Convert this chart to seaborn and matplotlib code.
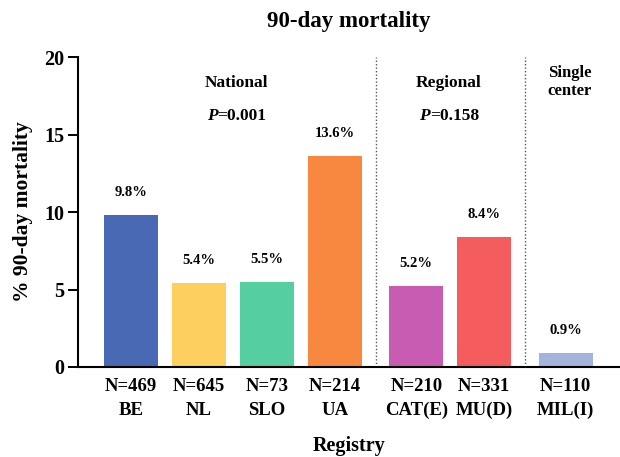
import seaborn as sns
import matplotlib
import matplotlib.pyplot as plt
import pandas as pd

matplotlib.use("Agg")

# data
registries = ["BE", "NL", "SLO", "UA", "CAT(E)", "MU(D)", "MIL(I)"]
sizes = [469, 645, 73, 214, 210, 331, 110]
mortality = [9.8, 5.4, 5.5, 13.6, 5.2, 8.4, 0.9]
groups = ["National", "National", "National", "National", "Regional", "Regional", "Single center"]
p_values = {"National": "0.001", "Regional": "0.158"}
colors = ["#4A69B4", "#FDCF5E", "#55CEA1", "#F8873F", "#C85BB2", "#F45C5D", "#A3B4DC"]

sns.set_style("ticks")
plt.rcParams["font.family"] = ["Liberation Serif", "DejaVu Serif"]
plt.rcParams["font.weight"] = "bold"
for key in ["text.color", "axes.labelcolor", "xtick.color", "ytick.color", "axes.edgecolor"]:
    plt.rcParams[key] = "black"

# a small extra gap between the three registry groups
group_gap = {"National": 0.0, "Regional": 0.2, "Single center": 0.4}
df = pd.DataFrame({"registry": registries, "n": sizes, "mortality": mortality, "group": groups})
df["pos"] = [i + group_gap[g] for i, g in enumerate(df["group"])]

fig = plt.figure(figsize=(6.2, 4.57), dpi=100)
ax = fig.add_axes([0.126, 0.197, 0.874, 0.678])

sns.barplot(data=df, x="pos", y="mortality", hue="registry", palette=colors,
            native_scale=True, width=0.8, dodge=False, legend=False, ax=ax,
            saturation=1, linewidth=0)

# value labels above bars
for _, row in df.iterrows():
    ax.text(row["pos"], row["mortality"] + 1.45, f"{row['mortality']:.1f}%",
            ha="center", va="center", fontsize=10.5, fontweight="bold")

# group separators
nat_end = df[df.group == "National"]["pos"].max()
reg_start = df[df.group == "Regional"]["pos"].min()
reg_end = df[df.group == "Regional"]["pos"].max()
sc_start = df[df.group == "Single center"]["pos"].min()
for xs in [(nat_end + reg_start) / 2, (reg_end + sc_start) / 2]:
    ax.plot([xs, xs], [0, 20], linestyle=(0, (1, 1.5)), color="#555555", linewidth=1)

# group labels with P values
for name, xc in [("National", 1.55), ("Regional", 4.68)]:
    ax.text(xc, 18.3, name, ha="center", va="center", fontsize=12.5, fontweight="bold")
    ax.text(xc - 0.28, 16.2, "P", ha="right", va="center", fontsize=12.5,
            fontweight="bold", fontstyle="italic")
    ax.text(xc - 0.28, 16.2, "=" + p_values[name], ha="left", va="center", fontsize=12.5,
            fontweight="bold")
ax.text(6.46, 18.4, "Single\ncenter", ha="center", va="center", fontsize=12, fontweight="bold",
        linespacing=1.1)

ax.set_xlim(-0.78, 7.2)
ax.set_ylim(0, 20)
ax.set_yticks([0, 5, 10, 15, 20])
ax.set_xticks(df["pos"])
ax.set_xticklabels([f"N={n}\n{r}" for n, r in zip(sizes, registries)], fontsize=13.5,
                   fontweight="bold", linespacing=1.5)
ax.tick_params(axis="x", length=0, pad=8)
ax.tick_params(axis="y", length=7, width=1.4, labelsize=14.5, pad=3)
for lbl in ax.get_yticklabels():
    lbl.set_fontweight("bold")

ax.set_xlabel("Registry", fontsize=14.5, fontweight="bold", labelpad=12)
ax.set_ylabel("% 90-day mortality", fontsize=15.5, fontweight="bold", labelpad=8)
ax.set_title("90-day mortality", fontsize=16.5, fontweight="bold", pad=22)

sns.despine(ax=ax)
for side in ["left", "bottom"]:
    ax.spines[side].set_linewidth(1.5)

plt.savefig("out.png", dpi=100)
